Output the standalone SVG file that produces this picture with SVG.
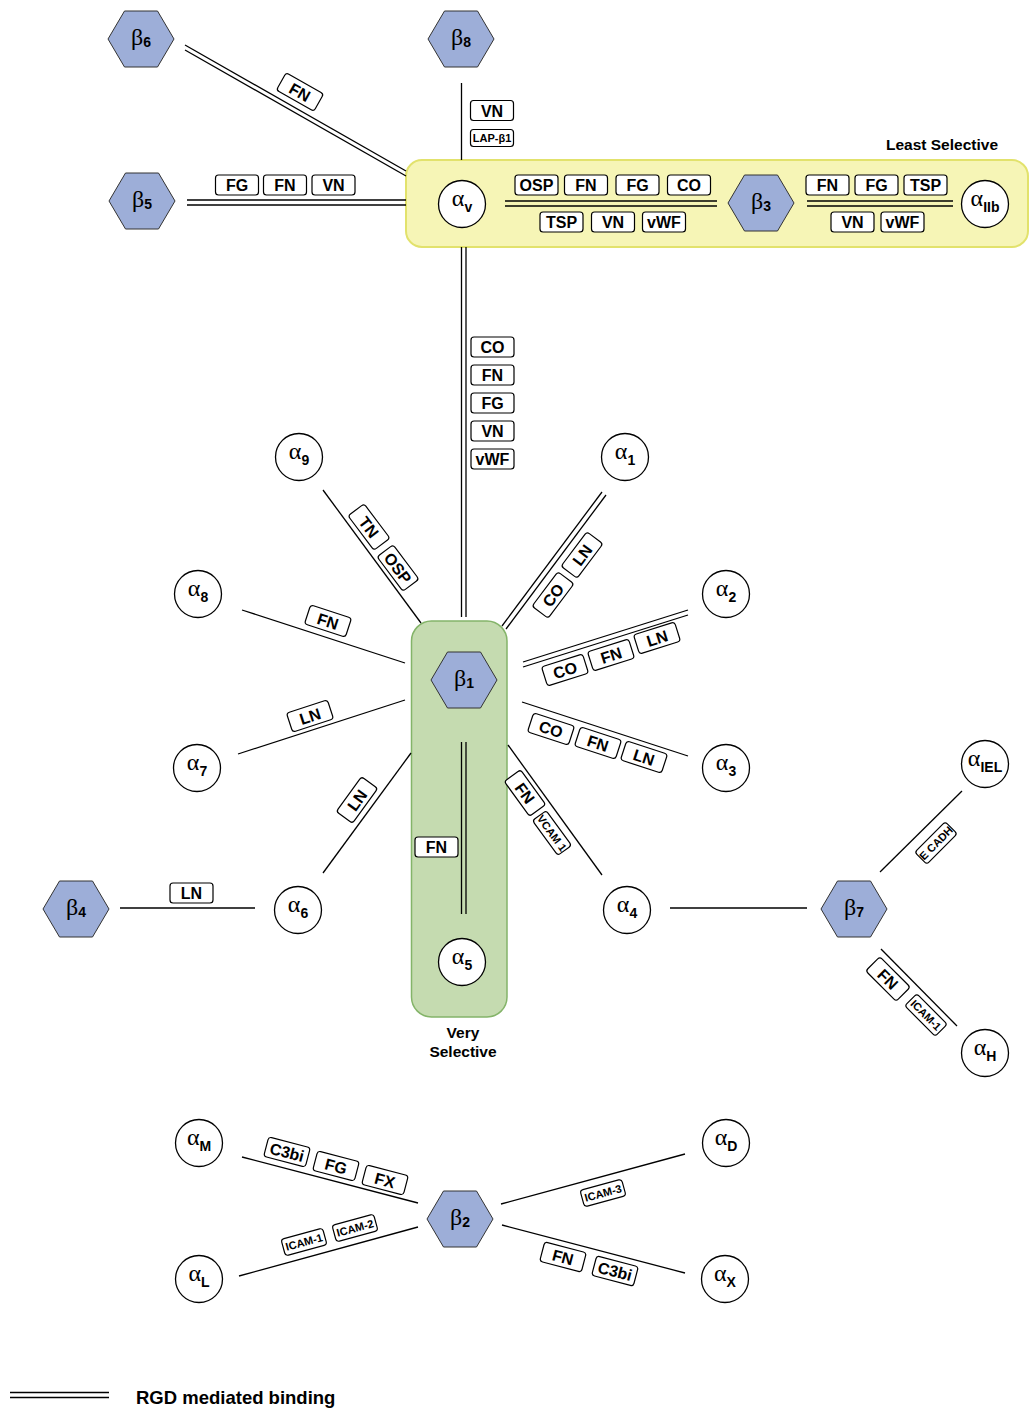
<svg xmlns="http://www.w3.org/2000/svg" xmlns:xlink="http://www.w3.org/1999/xlink" width="1029" height="1411" viewBox="0 0 1029 1411">
<style>
.ln{stroke:#000;stroke-width:1.3;fill:none}
.box{fill:#fff;stroke:#000;stroke-width:1.2}
.lb text{font-family:"Liberation Sans",Arial,sans-serif;font-weight:bold;font-size:16px;text-anchor:middle;fill:#000}
.sm text{font-size:11px}
.hex{fill:#9daed8;stroke:#333;stroke-width:1}
.circ{fill:#fff;stroke:#000;stroke-width:1.3}
.gk{font-family:"Liberation Serif","Times New Roman",serif;font-size:24px;text-anchor:middle;fill:#000}
.sub{font-family:"Liberation Sans",Arial,sans-serif;font-weight:bold;font-size:14px}
.cap{font-family:"Liberation Sans",Arial,sans-serif;font-weight:bold;font-size:15.5px;fill:#000}
</style>
<defs>
<polygon id="hexshape" class="hex" points="-33,0 -16.5,-28 16.5,-28 33,0 16.5,28 -16.5,28"/>
<rect id="lbox" class="box" x="-21.5" y="-10" width="43" height="20" rx="3"/>
<rect id="sbox" class="box" x="-21.5" y="-8.5" width="43" height="17" rx="3"/>
</defs>
<rect width="1029" height="1411" fill="#fff"/>

<g id="containers">
<rect id="least-selective-box" x="406" y="160" width="622" height="87" rx="16" fill="#f6f5b6" stroke="#e2e26c" stroke-width="2"/>
<rect id="very-selective-box" x="411.5" y="621" width="95.5" height="396" rx="20" fill="#c5dbb0" stroke="#84b469" stroke-width="1.5"/>
<text class="cap" x="998" y="150" text-anchor="end">Least Selective</text>
<text class="cap" x="463" y="1038" text-anchor="middle">Very</text>
<text class="cap" x="463" y="1057" text-anchor="middle">Selective</text>
</g>

<g id="connectors">
<line class="ln" x1="185" y1="45" x2="406" y2="171"/>
<line class="ln" x1="185" y1="50" x2="406" y2="176"/>
<line class="ln" x1="461.5" y1="83" x2="461.5" y2="160"/>
<line class="ln" x1="187" y1="200" x2="406" y2="200"/>
<line class="ln" x1="187" y1="205" x2="406" y2="205"/>
<line class="ln" x1="505" y1="201" x2="717" y2="201"/>
<line class="ln" x1="505" y1="206" x2="717" y2="206"/>
<line class="ln" x1="807" y1="201" x2="953" y2="201"/>
<line class="ln" x1="807" y1="206" x2="953" y2="206"/>
<line class="ln" x1="461.5" y1="247" x2="461.5" y2="617"/>
<line class="ln" x1="466" y1="247" x2="466" y2="617"/>
<line class="ln" x1="323" y1="490" x2="421" y2="623"/>
<line class="ln" x1="602" y1="492" x2="502" y2="626"/>
<line class="ln" x1="606" y1="495" x2="506" y2="629"/>
<line class="ln" x1="242" y1="610" x2="405" y2="663"/>
<line class="ln" x1="523" y1="662" x2="688" y2="610"/>
<line class="ln" x1="523" y1="667" x2="688" y2="615"/>
<line class="ln" x1="238" y1="754" x2="405" y2="700"/>
<line class="ln" x1="522" y1="702" x2="688" y2="756"/>
<line class="ln" x1="323" y1="873" x2="411" y2="753"/>
<line class="ln" x1="508" y1="745" x2="602" y2="875"/>
<line class="ln" x1="461.5" y1="742" x2="461.5" y2="914"/>
<line class="ln" x1="466" y1="742" x2="466" y2="914"/>
<line class="ln" x1="120" y1="908" x2="255" y2="908"/>
<line class="ln" x1="670" y1="908" x2="807" y2="908"/>
<line class="ln" x1="880" y1="872" x2="962" y2="791"/>
<line class="ln" x1="881" y1="949" x2="957" y2="1026"/>
<line class="ln" x1="242" y1="1157" x2="418" y2="1203"/>
<line class="ln" x1="239" y1="1276" x2="418" y2="1227"/>
<line class="ln" x1="501" y1="1204" x2="685" y2="1154"/>
<line class="ln" x1="502" y1="1225" x2="685" y2="1273"/>

<g id="connector-labels">
<g class="lb" transform="translate(300,92) rotate(29.5)"><use href="#lbox"/><text y="6">FN</text></g>
<g class="lb" transform="translate(492,110.5)"><use href="#lbox"/><text y="6">VN</text></g>
<g class="lb sm" transform="translate(492,138)"><use href="#sbox"/><text y="4">LAP-β1</text></g>
<g class="lb" transform="translate(237,185)"><use href="#lbox"/><text y="6">FG</text></g>
<g class="lb" transform="translate(285,185)"><use href="#lbox"/><text y="6">FN</text></g>
<g class="lb" transform="translate(333.5,185)"><use href="#lbox"/><text y="6">VN</text></g>
<g class="lb" transform="translate(536.5,185)"><use href="#lbox"/><text y="6">OSP</text></g>
<g class="lb" transform="translate(586,185)"><use href="#lbox"/><text y="6">FN</text></g>
<g class="lb" transform="translate(637.5,185)"><use href="#lbox"/><text y="6">FG</text></g>
<g class="lb" transform="translate(689,185)"><use href="#lbox"/><text y="6">CO</text></g>
<g class="lb" transform="translate(561.5,222)"><use href="#lbox"/><text y="6">TSP</text></g>
<g class="lb" transform="translate(613,222)"><use href="#lbox"/><text y="6">VN</text></g>
<g class="lb" transform="translate(664,222)"><use href="#lbox"/><text y="6">vWF</text></g>
<g class="lb" transform="translate(827.5,185)"><use href="#lbox"/><text y="6">FN</text></g>
<g class="lb" transform="translate(876.5,185)"><use href="#lbox"/><text y="6">FG</text></g>
<g class="lb" transform="translate(925.5,185)"><use href="#lbox"/><text y="6">TSP</text></g>
<g class="lb" transform="translate(852.5,222)"><use href="#lbox"/><text y="6">VN</text></g>
<g class="lb" transform="translate(902.5,222)"><use href="#lbox"/><text y="6">vWF</text></g>
<g class="lb" transform="translate(492.5,347)"><use href="#lbox"/><text y="6">CO</text></g>
<g class="lb" transform="translate(492.5,375)"><use href="#lbox"/><text y="6">FN</text></g>
<g class="lb" transform="translate(492.5,403)"><use href="#lbox"/><text y="6">FG</text></g>
<g class="lb" transform="translate(492.5,431)"><use href="#lbox"/><text y="6">VN</text></g>
<g class="lb" transform="translate(492.5,459)"><use href="#lbox"/><text y="6">vWF</text></g>
<g class="lb" transform="translate(369,527) rotate(53)"><use href="#lbox"/><text y="6">TN</text></g>
<g class="lb" transform="translate(398,568) rotate(53)"><use href="#lbox"/><text y="6">OSP</text></g>
<g class="lb" transform="translate(582,555) rotate(-53)"><use href="#lbox"/><text y="6">LN</text></g>
<g class="lb" transform="translate(553,595) rotate(-53)"><use href="#lbox"/><text y="6">CO</text></g>
<g class="lb" transform="translate(328,621) rotate(18)"><use href="#lbox"/><text y="6">FN</text></g>
<g class="lb" transform="translate(565,670) rotate(-17.5)"><use href="#lbox"/><text y="6">CO</text></g>
<g class="lb" transform="translate(611,655) rotate(-17.5)"><use href="#lbox"/><text y="6">FN</text></g>
<g class="lb" transform="translate(657,638) rotate(-17.5)"><use href="#lbox"/><text y="6">LN</text></g>
<g class="lb" transform="translate(310,716) rotate(-18)"><use href="#lbox"/><text y="6">LN</text></g>
<g class="lb" transform="translate(551,729) rotate(18)"><use href="#lbox"/><text y="6">CO</text></g>
<g class="lb" transform="translate(598,743) rotate(18)"><use href="#lbox"/><text y="6">FN</text></g>
<g class="lb" transform="translate(644,757) rotate(18)"><use href="#lbox"/><text y="6">LN</text></g>
<g class="lb" transform="translate(357,800) rotate(-54)"><use href="#lbox"/><text y="6">LN</text></g>
<g class="lb" transform="translate(525,793) rotate(54)"><use href="#lbox"/><text y="6">FN</text></g>
<g class="lb sm" transform="translate(552,833) rotate(54)"><use href="#sbox"/><text y="4">VCAM 1</text></g>
<g class="lb" transform="translate(436.5,847)"><use href="#lbox"/><text y="6">FN</text></g>
<g class="lb" transform="translate(191.5,893)"><use href="#lbox"/><text y="6">LN</text></g>
<g class="lb sm" transform="translate(936,843) rotate(-45)"><use href="#sbox"/><text y="4">E CADH</text></g>
<g class="lb" transform="translate(888,979) rotate(45)"><use href="#lbox"/><text y="6">FN</text></g>
<g class="lb sm" transform="translate(926,1015) rotate(45)"><use href="#sbox"/><text y="4">ICAM-1</text></g>
<g class="lb" transform="translate(287,1152) rotate(14.6)"><use href="#lbox"/><text y="6">C3bi</text></g>
<g class="lb" transform="translate(336,1166) rotate(14.6)"><use href="#lbox"/><text y="6">FG</text></g>
<g class="lb" transform="translate(385,1180) rotate(14.6)"><use href="#lbox"/><text y="6">FX</text></g>
<g class="lb sm" transform="translate(304,1242) rotate(-15.3)"><use href="#sbox"/><text y="4">ICAM-1</text></g>
<g class="lb sm" transform="translate(355,1228) rotate(-15.3)"><use href="#sbox"/><text y="4">ICAM-2</text></g>
<g class="lb sm" transform="translate(603,1193) rotate(-15.2)"><use href="#sbox"/><text y="4">ICAM-3</text></g>
<g class="lb" transform="translate(563,1257) rotate(14.7)"><use href="#lbox"/><text y="6">FN</text></g>
<g class="lb" transform="translate(615,1271) rotate(14.7)"><use href="#lbox"/><text y="6">C3bi</text></g>
</g>
</g>

<g id="beta6" transform="translate(141,39)"><use href="#hexshape"/><text class="gk" y="6">β<tspan class="sub" dy="2">6</tspan></text></g>
<g id="beta8" transform="translate(461,39)"><use href="#hexshape"/><text class="gk" y="6">β<tspan class="sub" dy="2">8</tspan></text></g>
<g id="beta5" transform="translate(142,201)"><use href="#hexshape"/><text class="gk" y="6">β<tspan class="sub" dy="2">5</tspan></text></g>
<g id="beta3" transform="translate(761,203)"><use href="#hexshape"/><text class="gk" y="6">β<tspan class="sub" dy="2">3</tspan></text></g>
<g id="beta1" transform="translate(464,680)"><use href="#hexshape"/><text class="gk" y="6">β<tspan class="sub" dy="2">1</tspan></text></g>
<g id="beta4" transform="translate(76,909)"><use href="#hexshape"/><text class="gk" y="6">β<tspan class="sub" dy="2">4</tspan></text></g>
<g id="beta7" transform="translate(854,909)"><use href="#hexshape"/><text class="gk" y="6">β<tspan class="sub" dy="2">7</tspan></text></g>
<g id="beta2" transform="translate(460,1219)"><use href="#hexshape"/><text class="gk" y="6">β<tspan class="sub" dy="2">2</tspan></text></g>

<g id="alphaV" transform="translate(462,204)"><circle class="circ" r="23.5"/><text class="gk" y="2">α<tspan class="sub" dy="6">v</tspan></text></g>
<g id="alphaIIb" transform="translate(985,204)"><circle class="circ" r="23.5"/><text class="gk" y="2">α<tspan class="sub" dy="6">IIb</tspan></text></g>
<g id="alpha9" transform="translate(299,457)"><circle class="circ" r="23.5"/><text class="gk" y="2">α<tspan class="sub" dy="6">9</tspan></text></g>
<g id="alpha1" transform="translate(625,457)"><circle class="circ" r="23.5"/><text class="gk" y="2">α<tspan class="sub" dy="6">1</tspan></text></g>
<g id="alpha8" transform="translate(198,594)"><circle class="circ" r="23.5"/><text class="gk" y="2">α<tspan class="sub" dy="6">8</tspan></text></g>
<g id="alpha2" transform="translate(726,594)"><circle class="circ" r="23.5"/><text class="gk" y="2">α<tspan class="sub" dy="6">2</tspan></text></g>
<g id="alpha7" transform="translate(197,768)"><circle class="circ" r="23.5"/><text class="gk" y="2">α<tspan class="sub" dy="6">7</tspan></text></g>
<g id="alpha3" transform="translate(726,768)"><circle class="circ" r="23.5"/><text class="gk" y="2">α<tspan class="sub" dy="6">3</tspan></text></g>
<g id="alpha6" transform="translate(298,910)"><circle class="circ" r="23.5"/><text class="gk" y="2">α<tspan class="sub" dy="6">6</tspan></text></g>
<g id="alpha4" transform="translate(627,910)"><circle class="circ" r="23.5"/><text class="gk" y="2">α<tspan class="sub" dy="6">4</tspan></text></g>
<g id="alpha5" transform="translate(462,962)"><circle class="circ" r="23.5"/><text class="gk" y="2">α<tspan class="sub" dy="6">5</tspan></text></g>
<g id="alphaIEL" transform="translate(985,764)"><circle class="circ" r="23.5"/><text class="gk" y="2">α<tspan class="sub" dy="6">IEL</tspan></text></g>
<g id="alphaH" transform="translate(985,1053)"><circle class="circ" r="23.5"/><text class="gk" y="2">α<tspan class="sub" dy="6">H</tspan></text></g>
<g id="alphaM" transform="translate(199,1143)"><circle class="circ" r="23.5"/><text class="gk" y="2">α<tspan class="sub" dy="6">M</tspan></text></g>
<g id="alphaD" transform="translate(726,1143)"><circle class="circ" r="23.5"/><text class="gk" y="2">α<tspan class="sub" dy="6">D</tspan></text></g>
<g id="alphaL" transform="translate(199,1279)"><circle class="circ" r="23.5"/><text class="gk" y="2">α<tspan class="sub" dy="6">L</tspan></text></g>
<g id="alphaX" transform="translate(725,1279)"><circle class="circ" r="23.5"/><text class="gk" y="2">α<tspan class="sub" dy="6">X</tspan></text></g>

<g id="legend">
<line class="ln" x1="10" y1="1392.5" x2="109" y2="1392.5"/>
<line class="ln" x1="10" y1="1397.5" x2="109" y2="1397.5"/>
<text class="cap" x="136" y="1404" style="font-size:18.5px">RGD mediated binding</text>
</g>
</svg>
